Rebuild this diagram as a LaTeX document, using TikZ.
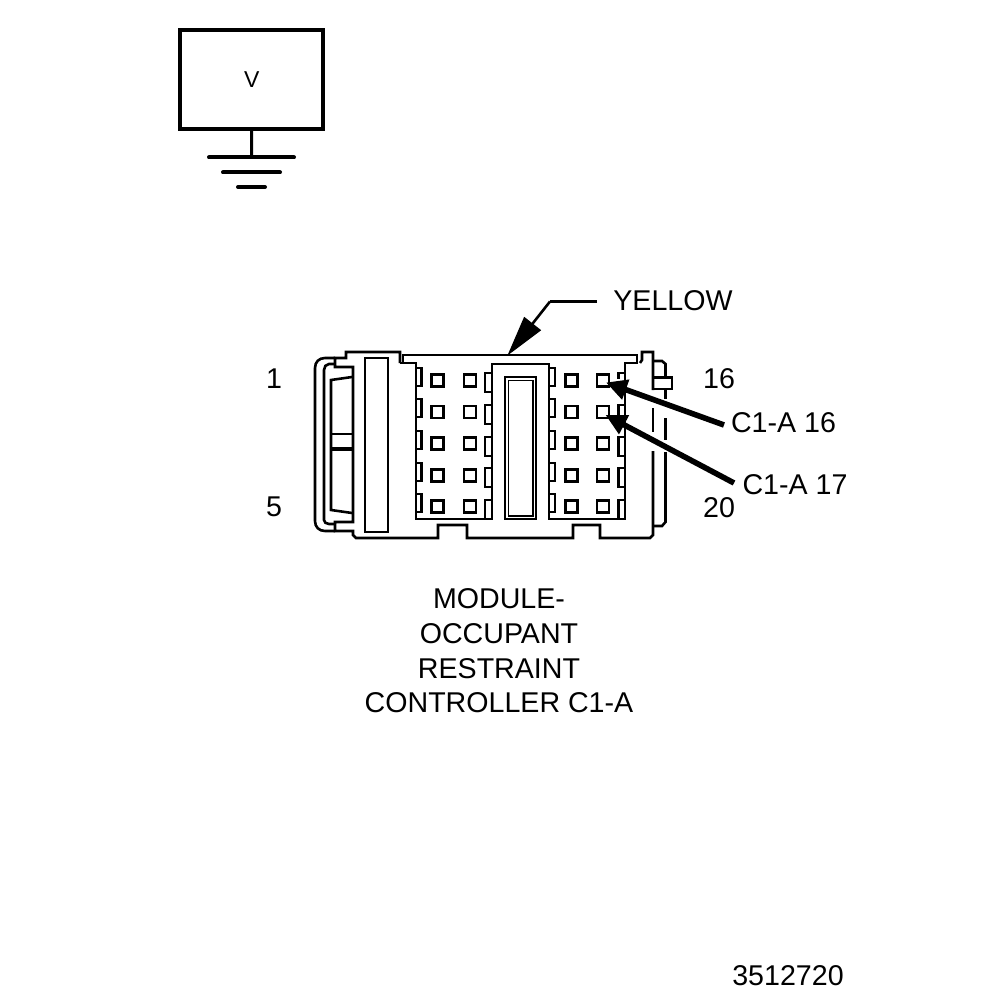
\documentclass[tikz,border=0pt]{standalone}
\usepackage{fontspec}
\setmainfont{Liberation Sans}
\usetikzlibrary{arrows.meta}
\tikzset{
  ol/.style={line width=2.6pt},
  gnd/.style={line width=4pt,line cap=round},
  lbl/.style={font=\fontsize{28.6}{33}\selectfont,inner sep=0pt,anchor=base},
  callout/.style={line width=5.6pt,-{Triangle[length=21pt,width=20pt]}},
  leader/.style={line width=2.6pt},
  bigtip/.style={line width=2.6pt,-{Triangle[length=41pt,width=21pt]}},
  pin/.style={draw,line width=2.6pt,minimum size=12.2pt,inner sep=0pt},
}
\begin{document}
\begin{tikzpicture}[x=1pt,y=-1pt]
\useasboundingbox (0,0) rectangle (1008,1000);
% voltage box and ground
\node[draw,line width=4pt,minimum width=143pt,minimum height=99pt,inner sep=0pt,font=\fontsize{23}{24}\selectfont] (vbox) at (251.7,79.5) {V};
\coordinate (g1) at (251.5,157.5);
\draw[line width=3pt] (vbox.south) -- (g1);
\draw[gnd] (209,157.5) -- (294,157.5);
\draw[gnd] (223,172.5) -- (280,172.5);
\draw[gnd] (238,187) -- (265,187);
% connector outline
\draw[ol] (400,363) -- (400,352) -- (346,352) -- (346,358) -- (335,358) -- (335,367) -- (353,367) -- (353,522) -- (335,522) -- (335,531) -- (353,531) -- (353,535) -- (356,538)
  -- (438,538) -- (438,525) -- (467,525) -- (467,538) -- (573,538) -- (573,525) -- (600,525) -- (600,538) -- (650,538) -- (653,535) -- (653,451);
\draw[ol] (400,363) -- (416,363) -- (416,519) -- (492,519) -- (492,364) -- (549,364) -- (549,519) -- (625,519) -- (625,363) -- (637,363) -- (637,355) -- (403,355) -- (403,363);
\draw[ol] (640,363) -- (642,360) -- (642,352) -- (653,352) -- (653,390);
\draw[ol] (653,408) -- (653,432);
% right latch
\draw[ol] (653,361) -- (662,361) -- (665.5,364) -- (665.5,377);
\draw[ol] (653,377.5) rectangle (672,389);
\draw[ol] (665.5,390) -- (665.5,399);
\draw[ol] (665.5,418) -- (665.5,440);
\draw[ol] (665.5,452) -- (665.5,522) -- (662,526) -- (653,526);
% left bracket
\draw[ol] (335,358) -- (325,358) .. controls (319,358) and (315,362) .. (315,368) -- (315,521) .. controls (315,527) and (319,531) .. (325,531) -- (335,531);
\draw[ol] (335,364) -- (329,364) .. controls (326,364) and (324,367) .. (324,370) -- (324,520) .. controls (324,522) and (326,524) .. (329,524) -- (335,524);
\draw[ol] (352,377) -- (331,380) -- (331,510) -- (352,513);
\draw[ol] (331,434) -- (353,434);
\draw[line width=3.4pt] (331,449) -- (353,449);
\draw[ol] (365,358) rectangle (388,532);
% centre window
\draw[ol] (505,377) rectangle (536,519);
\draw[line width=1.8pt] (508.5,380.5) rectangle (533,516);
% pins
\foreach \i/\y in {1/380.5,2/412,3/443.5,4/475.5,5/506.5}{
  \foreach \j/\x in {1/437.5,2/470,3/571.5,4/603}{
    \node[pin] (p\i\j) at (\x,\y) {};
  }
}
% latch tabs
\foreach \y in {368,399,431,463,494}{
  \draw[ol] (416,\y) -- (421.5,\y) -- (421.5,\y+18) -- (416,\y+18);
  \draw[ol] (549,\y) -- (555,\y) -- (555,\y+18) -- (549,\y+18);
}
\foreach \y in {373,405,437,468}{
  \draw[ol] (492,\y) -- (485,\y) -- (485,\y+19) -- (492,\y+19);
}
\draw[ol] (492,500) -- (485,500) -- (485,519);
\draw[ol] (625,373) -- (618.5,373) -- (618.5,379);
\draw[ol] (625,405) -- (618.5,405) -- (618.5,415);
\foreach \y in {437,468}{
  \draw[ol] (625,\y) -- (618.5,\y) -- (618.5,\y+19) -- (625,\y+19);
}
\draw[ol] (625,500) -- (618.5,500) -- (618.5,519);
% labels
\node[lbl] (t1) at (274,388) {1};
\node[lbl] (t5) at (274,516) {5};
\node[lbl] (t16) at (719,388) {16};
\node[lbl] (t20) at (719,517) {20};
\node[lbl] (yellow) at (673,310) {YELLOW};
\node[lbl] (c16) at (783.5,432) {C1-A 16};
\node[lbl] (c17) at (795,494) {C1-A 17};
\node[lbl] (m1) at (499,608) {MODULE-};
\node[lbl] (m2) at (499,643) {OCCUPANT};
\node[lbl] (m3) at (499,678) {RESTRAINT};
\node[lbl] (m4) at (499,712.5) {CONTROLLER C1-A};
\node[lbl] (num) at (788,985) {3512720};
% callouts
\coordinate (yA) at (597,301.5);
\coordinate (yB) at (550,301.5);
\coordinate (yT) at (507.3,355.7);
\draw[leader] (yA) -- (yB);
\draw[bigtip] (yB) -- (yT);
\coordinate (a16) at (724,425);
\coordinate (a17) at (734,483);
\coordinate (h16) at (606,382.5);
\coordinate (h17) at (605.5,415);
\draw[callout] (a16) -- (h16);
\draw[callout] (a17) -- (h17);
\end{tikzpicture}
\end{document}
